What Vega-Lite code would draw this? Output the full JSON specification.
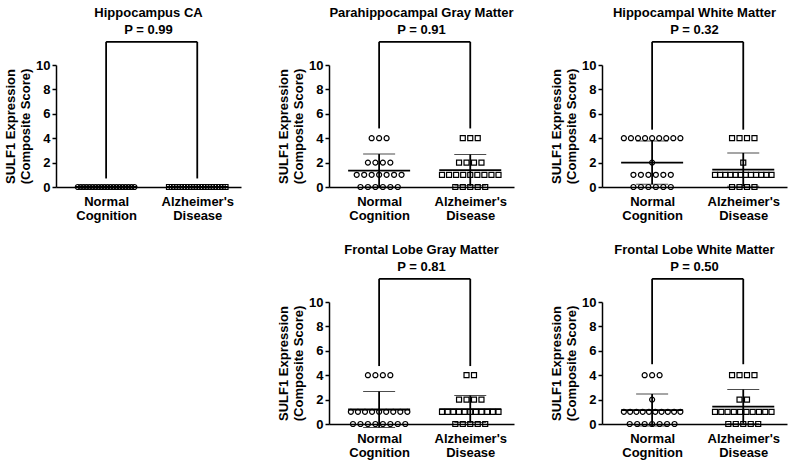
{
  "$schema": "https://vega.github.io/schema/vega-lite/v6.json",
  "padding": {"left": 4, "top": 6, "right": 5, "bottom": 3},
  "background": "white",
  "config": {
    "font": "Liberation Sans",
    "view": {"stroke": null},
    "axis": {"grid": false, "labelOverlap": false, "domainColor": "black", "domainWidth": 1.5, "tickColor": "black", "tickWidth": 1.5, "labelColor": "black", "labelFontWeight": "bold", "labelFontSize": 13, "titleFontWeight": "bold", "titleFontSize": 13, "titleColor": "black"},
    "axisX": {"ticks": false, "labelPadding": 8, "labelLineHeight": 14, "labelFlush": false},
    "axisY": {"tickSize": 4, "labelPadding": 2, "titlePadding": 3},
    "title": {"frame": "group", "anchor": "middle", "fontSize": 13, "subtitleFontSize": 13, "fontWeight": "bold", "subtitleFontWeight": "bold", "color": "black", "subtitleColor": "black", "subtitlePadding": 4, "offset": 4}
  },
  "datasets": {
    "scores": [
      {"region":"HCA","group":"NC","score":0},{"region":"HCA","group":"NC","score":0},{"region":"HCA","group":"NC","score":0},{"region":"HCA","group":"NC","score":0},{"region":"HCA","group":"NC","score":0},
      {"region":"HCA","group":"NC","score":0},{"region":"HCA","group":"NC","score":0},{"region":"HCA","group":"NC","score":0},{"region":"HCA","group":"NC","score":0},{"region":"HCA","group":"NC","score":0},
      {"region":"HCA","group":"NC","score":0},{"region":"HCA","group":"NC","score":0},{"region":"HCA","group":"NC","score":0},{"region":"HCA","group":"NC","score":0},{"region":"HCA","group":"NC","score":0},
      {"region":"HCA","group":"NC","score":0},{"region":"HCA","group":"NC","score":0},{"region":"HCA","group":"NC","score":0},{"region":"HCA","group":"NC","score":0},{"region":"HCA","group":"NC","score":0},
      {"region":"HCA","group":"AD","score":0},{"region":"HCA","group":"AD","score":0},{"region":"HCA","group":"AD","score":0},{"region":"HCA","group":"AD","score":0},{"region":"HCA","group":"AD","score":0},
      {"region":"HCA","group":"AD","score":0},{"region":"HCA","group":"AD","score":0},{"region":"HCA","group":"AD","score":0},{"region":"HCA","group":"AD","score":0},{"region":"HCA","group":"AD","score":0},
      {"region":"HCA","group":"AD","score":0},{"region":"HCA","group":"AD","score":0},{"region":"HCA","group":"AD","score":0},{"region":"HCA","group":"AD","score":0},{"region":"HCA","group":"AD","score":0},
      {"region":"HCA","group":"AD","score":0},{"region":"HCA","group":"AD","score":0},{"region":"HCA","group":"AD","score":0},{"region":"HCA","group":"AD","score":0},{"region":"HCA","group":"AD","score":0},
      {"region":"HCA","group":"AD","score":0},

      {"region":"PHGM","group":"NC","score":4},{"region":"PHGM","group":"NC","score":4},{"region":"PHGM","group":"NC","score":4},
      {"region":"PHGM","group":"NC","score":2},{"region":"PHGM","group":"NC","score":2},{"region":"PHGM","group":"NC","score":2},{"region":"PHGM","group":"NC","score":2},
      {"region":"PHGM","group":"NC","score":1},{"region":"PHGM","group":"NC","score":1},{"region":"PHGM","group":"NC","score":1},{"region":"PHGM","group":"NC","score":1},{"region":"PHGM","group":"NC","score":1},{"region":"PHGM","group":"NC","score":1},{"region":"PHGM","group":"NC","score":1},
      {"region":"PHGM","group":"NC","score":0},{"region":"PHGM","group":"NC","score":0},{"region":"PHGM","group":"NC","score":0},{"region":"PHGM","group":"NC","score":0},{"region":"PHGM","group":"NC","score":0},{"region":"PHGM","group":"NC","score":0},
      {"region":"PHGM","group":"AD","score":4},{"region":"PHGM","group":"AD","score":4},{"region":"PHGM","group":"AD","score":4},
      {"region":"PHGM","group":"AD","score":2},{"region":"PHGM","group":"AD","score":2},{"region":"PHGM","group":"AD","score":2},{"region":"PHGM","group":"AD","score":2},
      {"region":"PHGM","group":"AD","score":1},{"region":"PHGM","group":"AD","score":1},{"region":"PHGM","group":"AD","score":1},{"region":"PHGM","group":"AD","score":1},{"region":"PHGM","group":"AD","score":1},{"region":"PHGM","group":"AD","score":1},{"region":"PHGM","group":"AD","score":1},{"region":"PHGM","group":"AD","score":1},{"region":"PHGM","group":"AD","score":1},
      {"region":"PHGM","group":"AD","score":0},{"region":"PHGM","group":"AD","score":0},{"region":"PHGM","group":"AD","score":0},{"region":"PHGM","group":"AD","score":0},{"region":"PHGM","group":"AD","score":0},

      {"region":"HWM","group":"NC","score":4},{"region":"HWM","group":"NC","score":4},{"region":"HWM","group":"NC","score":4},{"region":"HWM","group":"NC","score":4},{"region":"HWM","group":"NC","score":4},{"region":"HWM","group":"NC","score":4},{"region":"HWM","group":"NC","score":4},{"region":"HWM","group":"NC","score":4},{"region":"HWM","group":"NC","score":4},
      {"region":"HWM","group":"NC","score":2},
      {"region":"HWM","group":"NC","score":1},{"region":"HWM","group":"NC","score":1},{"region":"HWM","group":"NC","score":1},{"region":"HWM","group":"NC","score":1},{"region":"HWM","group":"NC","score":1},{"region":"HWM","group":"NC","score":1},
      {"region":"HWM","group":"NC","score":0},{"region":"HWM","group":"NC","score":0},{"region":"HWM","group":"NC","score":0},{"region":"HWM","group":"NC","score":0},{"region":"HWM","group":"NC","score":0},{"region":"HWM","group":"NC","score":0},
      {"region":"HWM","group":"AD","score":4},{"region":"HWM","group":"AD","score":4},{"region":"HWM","group":"AD","score":4},{"region":"HWM","group":"AD","score":4},
      {"region":"HWM","group":"AD","score":2},
      {"region":"HWM","group":"AD","score":1},{"region":"HWM","group":"AD","score":1},{"region":"HWM","group":"AD","score":1},{"region":"HWM","group":"AD","score":1},{"region":"HWM","group":"AD","score":1},{"region":"HWM","group":"AD","score":1},{"region":"HWM","group":"AD","score":1},{"region":"HWM","group":"AD","score":1},{"region":"HWM","group":"AD","score":1},{"region":"HWM","group":"AD","score":1},{"region":"HWM","group":"AD","score":1},{"region":"HWM","group":"AD","score":1},
      {"region":"HWM","group":"AD","score":0},{"region":"HWM","group":"AD","score":0},{"region":"HWM","group":"AD","score":0},{"region":"HWM","group":"AD","score":0},

      {"region":"FGM","group":"NC","score":4},{"region":"FGM","group":"NC","score":4},{"region":"FGM","group":"NC","score":4},{"region":"FGM","group":"NC","score":4},
      {"region":"FGM","group":"NC","score":1},{"region":"FGM","group":"NC","score":1},{"region":"FGM","group":"NC","score":1},{"region":"FGM","group":"NC","score":1},{"region":"FGM","group":"NC","score":1},{"region":"FGM","group":"NC","score":1},{"region":"FGM","group":"NC","score":1},{"region":"FGM","group":"NC","score":1},{"region":"FGM","group":"NC","score":1},
      {"region":"FGM","group":"NC","score":0},{"region":"FGM","group":"NC","score":0},{"region":"FGM","group":"NC","score":0},{"region":"FGM","group":"NC","score":0},{"region":"FGM","group":"NC","score":0},{"region":"FGM","group":"NC","score":0},{"region":"FGM","group":"NC","score":0},{"region":"FGM","group":"NC","score":0},
      {"region":"FGM","group":"AD","score":4},{"region":"FGM","group":"AD","score":4},
      {"region":"FGM","group":"AD","score":2},{"region":"FGM","group":"AD","score":2},{"region":"FGM","group":"AD","score":2},{"region":"FGM","group":"AD","score":2},
      {"region":"FGM","group":"AD","score":1},{"region":"FGM","group":"AD","score":1},{"region":"FGM","group":"AD","score":1},{"region":"FGM","group":"AD","score":1},{"region":"FGM","group":"AD","score":1},{"region":"FGM","group":"AD","score":1},{"region":"FGM","group":"AD","score":1},{"region":"FGM","group":"AD","score":1},{"region":"FGM","group":"AD","score":1},{"region":"FGM","group":"AD","score":1},{"region":"FGM","group":"AD","score":1},
      {"region":"FGM","group":"AD","score":0},{"region":"FGM","group":"AD","score":0},{"region":"FGM","group":"AD","score":0},{"region":"FGM","group":"AD","score":0},{"region":"FGM","group":"AD","score":0},

      {"region":"FWM","group":"NC","score":4},{"region":"FWM","group":"NC","score":4},{"region":"FWM","group":"NC","score":4},
      {"region":"FWM","group":"NC","score":2},
      {"region":"FWM","group":"NC","score":1},{"region":"FWM","group":"NC","score":1},{"region":"FWM","group":"NC","score":1},{"region":"FWM","group":"NC","score":1},{"region":"FWM","group":"NC","score":1},{"region":"FWM","group":"NC","score":1},{"region":"FWM","group":"NC","score":1},{"region":"FWM","group":"NC","score":1},{"region":"FWM","group":"NC","score":1},{"region":"FWM","group":"NC","score":1},
      {"region":"FWM","group":"NC","score":0},{"region":"FWM","group":"NC","score":0},{"region":"FWM","group":"NC","score":0},{"region":"FWM","group":"NC","score":0},{"region":"FWM","group":"NC","score":0},{"region":"FWM","group":"NC","score":0},{"region":"FWM","group":"NC","score":0},
      {"region":"FWM","group":"AD","score":4},{"region":"FWM","group":"AD","score":4},{"region":"FWM","group":"AD","score":4},{"region":"FWM","group":"AD","score":4},
      {"region":"FWM","group":"AD","score":2},{"region":"FWM","group":"AD","score":2},
      {"region":"FWM","group":"AD","score":1},{"region":"FWM","group":"AD","score":1},{"region":"FWM","group":"AD","score":1},{"region":"FWM","group":"AD","score":1},{"region":"FWM","group":"AD","score":1},{"region":"FWM","group":"AD","score":1},{"region":"FWM","group":"AD","score":1},{"region":"FWM","group":"AD","score":1},{"region":"FWM","group":"AD","score":1},{"region":"FWM","group":"AD","score":1},
      {"region":"FWM","group":"AD","score":0},{"region":"FWM","group":"AD","score":0},{"region":"FWM","group":"AD","score":0},{"region":"FWM","group":"AD","score":0},{"region":"FWM","group":"AD","score":0}
    ],
    "brackets": [
      {"region":"HCA","group":"NC","bottom":0.7},{"region":"HCA","group":"AD","bottom":0.7},
      {"region":"PHGM","group":"NC","bottom":4.8},{"region":"PHGM","group":"AD","bottom":4.8},
      {"region":"HWM","group":"NC","bottom":4.7},{"region":"HWM","group":"AD","bottom":4.7},
      {"region":"FGM","group":"NC","bottom":4.75},{"region":"FGM","group":"AD","bottom":4.75},
      {"region":"FWM","group":"NC","bottom":4.9},{"region":"FWM","group":"AD","bottom":4.9}
    ]
  },
  "columns": 3,
  "spacing": {"row": 21, "column": 36},
  "concat": [
    {
      "title": {"text": "Hippocampus CA", "subtitle": "P = 0.99"},
      "width": 185, "height": 122,
      "layer": [
        {"data": {"name": "brackets"}, "transform": [{"filter": "datum.region == 'HCA'"}, {"calculate": "datum.group == 'NC' ? 1 : 2", "as": "g"}],
         "mark": {"type": "rule", "strokeWidth": 1.8, "color": "black"},
         "encoding": {"x": {"field": "g", "type": "quantitative", "scale": {"domain": [0.45, 2.48], "nice": false, "zero": false}, "axis": {"values": [1, 2], "title": null, "labelExpr": "datum.value == 1 ? ['Normal', 'Cognition'] : [\"Alzheimer's\", 'Disease']"}}, "y": {"field": "bottom", "type": "quantitative", "scale": {"domain": [0, 10], "nice": false}, "axis": {"values": [0, 2, 4, 6, 8, 10], "tickCount": 10, "labelOverlap": false, "title": ["SULF1 Expression", "(Composite Score)"]}}, "y2": {"datum": 11.9}}},
        {"data": {"name": "brackets"}, "transform": [{"filter": "datum.region == 'HCA' && datum.group == 'NC'"}],
         "mark": {"type": "rule", "strokeWidth": 1.8, "color": "black"},
         "encoding": {"x": {"datum": 1}, "x2": {"datum": 2}, "y": {"datum": 11.9}}},
        {"data": {"name": "scores"}, "transform": [{"filter": "datum.region == 'HCA'"}, {"window": [{"op": "row_number", "as": "rank"}], "groupby": ["group", "score"]}, {"joinaggregate": [{"op": "count", "as": "n"}], "groupby": ["group", "score"]}, {"calculate": "(datum.group == 'NC' ? 1 : 2) + (datum.rank - 1 - (datum.n - 1) / 2) * min(0.082, 0.62 / max(datum.n - 1, 1))", "as": "xpos"}],
         "mark": {"type": "point", "filled": false, "size": 25, "strokeWidth": 1.2, "color": "black", "opacity": 1},
         "encoding": {
           "x": {"field": "xpos", "type": "quantitative", "axis": {"values": [1, 2], "title": null, "labelExpr": "datum.value == 1 ? ['Normal', 'Cognition'] : [\"Alzheimer's\", 'Disease']"}},
           "y": {"field": "score", "type": "quantitative", "axis": {"values": [0, 2, 4, 6, 8, 10], "tickCount": 10, "labelOverlap": false, "title": ["SULF1 Expression", "(Composite Score)"]}},
           "shape": {"field": "group", "type": "nominal", "scale": {"domain": ["NC", "AD"], "range": ["circle", "square"]}, "legend": null}}},
        {"data": {"name": "scores"}, "transform": [{"filter": "datum.region == 'HCA'"}, {"calculate": "datum.group == 'NC' ? 1 : 2", "as": "g"}],
         "mark": {"type": "errorbar", "extent": "stdev", "orient": "vertical", "color": "black", "ticks": {"size": 32, "strokeWidth": 1.8}, "rule": {"strokeWidth": 1.8}},
         "encoding": {"x": {"field": "g", "type": "quantitative", "axis": {"values": [1, 2], "title": null, "labelExpr": "datum.value == 1 ? ['Normal', 'Cognition'] : [\"Alzheimer's\", 'Disease']"}}, "y": {"field": "score", "type": "quantitative", "axis": {"values": [0, 2, 4, 6, 8, 10], "tickCount": 10, "labelOverlap": false, "title": ["SULF1 Expression", "(Composite Score)"]}}}},
        {"data": {"name": "scores"}, "transform": [{"filter": "datum.region == 'HCA'"}, {"calculate": "datum.group == 'NC' ? 1 : 2", "as": "g"}],
         "mark": {"type": "tick", "orient": "horizontal", "size": 62, "thickness": 1.8, "color": "black", "opacity": 1},
         "encoding": {"x": {"field": "g", "type": "quantitative", "axis": {"values": [1, 2], "title": null, "labelExpr": "datum.value == 1 ? ['Normal', 'Cognition'] : [\"Alzheimer's\", 'Disease']"}}, "y": {"aggregate": "mean", "field": "score", "type": "quantitative", "axis": {"values": [0, 2, 4, 6, 8, 10], "tickCount": 10, "labelOverlap": false, "title": ["SULF1 Expression", "(Composite Score)"]}}}}
      ]
    },
    {
      "title": {"text": "Parahippocampal Gray Matter", "subtitle": "P = 0.91"},
      "width": 185, "height": 122,
      "layer": [
        {"data": {"name": "brackets"}, "transform": [{"filter": "datum.region == 'PHGM'"}, {"calculate": "datum.group == 'NC' ? 1 : 2", "as": "g"}],
         "mark": {"type": "rule", "strokeWidth": 1.8, "color": "black"},
         "encoding": {"x": {"field": "g", "type": "quantitative", "scale": {"domain": [0.45, 2.48], "nice": false, "zero": false}, "axis": {"values": [1, 2], "title": null, "labelExpr": "datum.value == 1 ? ['Normal', 'Cognition'] : [\"Alzheimer's\", 'Disease']"}}, "y": {"field": "bottom", "type": "quantitative", "scale": {"domain": [0, 10], "nice": false}, "axis": {"values": [0, 2, 4, 6, 8, 10], "tickCount": 10, "labelOverlap": false, "title": ["SULF1 Expression", "(Composite Score)"]}}, "y2": {"datum": 11.9}}},
        {"data": {"name": "brackets"}, "transform": [{"filter": "datum.region == 'PHGM' && datum.group == 'NC'"}],
         "mark": {"type": "rule", "strokeWidth": 1.8, "color": "black"},
         "encoding": {"x": {"datum": 1}, "x2": {"datum": 2}, "y": {"datum": 11.9}}},
        {"data": {"name": "scores"}, "transform": [{"filter": "datum.region == 'PHGM'"}, {"window": [{"op": "row_number", "as": "rank"}], "groupby": ["group", "score"]}, {"joinaggregate": [{"op": "count", "as": "n"}], "groupby": ["group", "score"]}, {"calculate": "(datum.group == 'NC' ? 1 : 2) + (datum.rank - 1 - (datum.n - 1) / 2) * min(0.082, 0.62 / max(datum.n - 1, 1))", "as": "xpos"}],
         "mark": {"type": "point", "filled": false, "size": 25, "strokeWidth": 1.2, "color": "black", "opacity": 1},
         "encoding": {
           "x": {"field": "xpos", "type": "quantitative", "axis": {"values": [1, 2], "title": null, "labelExpr": "datum.value == 1 ? ['Normal', 'Cognition'] : [\"Alzheimer's\", 'Disease']"}},
           "y": {"field": "score", "type": "quantitative", "axis": {"values": [0, 2, 4, 6, 8, 10], "tickCount": 10, "labelOverlap": false, "title": ["SULF1 Expression", "(Composite Score)"]}},
           "shape": {"field": "group", "type": "nominal", "scale": {"domain": ["NC", "AD"], "range": ["circle", "square"]}, "legend": null}}},
        {"data": {"name": "scores"}, "transform": [{"filter": "datum.region == 'PHGM'"}, {"calculate": "datum.group == 'NC' ? 1 : 2", "as": "g"}],
         "mark": {"type": "errorbar", "extent": "stdev", "orient": "vertical", "color": "black", "ticks": {"size": 32, "strokeWidth": 1.8}, "rule": {"strokeWidth": 1.8}},
         "encoding": {"x": {"field": "g", "type": "quantitative", "axis": {"values": [1, 2], "title": null, "labelExpr": "datum.value == 1 ? ['Normal', 'Cognition'] : [\"Alzheimer's\", 'Disease']"}}, "y": {"field": "score", "type": "quantitative", "axis": {"values": [0, 2, 4, 6, 8, 10], "tickCount": 10, "labelOverlap": false, "title": ["SULF1 Expression", "(Composite Score)"]}}}},
        {"data": {"name": "scores"}, "transform": [{"filter": "datum.region == 'PHGM'"}, {"calculate": "datum.group == 'NC' ? 1 : 2", "as": "g"}],
         "mark": {"type": "tick", "orient": "horizontal", "size": 62, "thickness": 1.8, "color": "black", "opacity": 1},
         "encoding": {"x": {"field": "g", "type": "quantitative", "axis": {"values": [1, 2], "title": null, "labelExpr": "datum.value == 1 ? ['Normal', 'Cognition'] : [\"Alzheimer's\", 'Disease']"}}, "y": {"aggregate": "mean", "field": "score", "type": "quantitative", "axis": {"values": [0, 2, 4, 6, 8, 10], "tickCount": 10, "labelOverlap": false, "title": ["SULF1 Expression", "(Composite Score)"]}}}}
      ]
    },
    {
      "title": {"text": "Hippocampal White Matter", "subtitle": "P = 0.32"},
      "width": 185, "height": 122,
      "layer": [
        {"data": {"name": "brackets"}, "transform": [{"filter": "datum.region == 'HWM'"}, {"calculate": "datum.group == 'NC' ? 1 : 2", "as": "g"}],
         "mark": {"type": "rule", "strokeWidth": 1.8, "color": "black"},
         "encoding": {"x": {"field": "g", "type": "quantitative", "scale": {"domain": [0.45, 2.48], "nice": false, "zero": false}, "axis": {"values": [1, 2], "title": null, "labelExpr": "datum.value == 1 ? ['Normal', 'Cognition'] : [\"Alzheimer's\", 'Disease']"}}, "y": {"field": "bottom", "type": "quantitative", "scale": {"domain": [0, 10], "nice": false}, "axis": {"values": [0, 2, 4, 6, 8, 10], "tickCount": 10, "labelOverlap": false, "title": ["SULF1 Expression", "(Composite Score)"]}}, "y2": {"datum": 11.9}}},
        {"data": {"name": "brackets"}, "transform": [{"filter": "datum.region == 'HWM' && datum.group == 'NC'"}],
         "mark": {"type": "rule", "strokeWidth": 1.8, "color": "black"},
         "encoding": {"x": {"datum": 1}, "x2": {"datum": 2}, "y": {"datum": 11.9}}},
        {"data": {"name": "scores"}, "transform": [{"filter": "datum.region == 'HWM'"}, {"window": [{"op": "row_number", "as": "rank"}], "groupby": ["group", "score"]}, {"joinaggregate": [{"op": "count", "as": "n"}], "groupby": ["group", "score"]}, {"calculate": "(datum.group == 'NC' ? 1 : 2) + (datum.rank - 1 - (datum.n - 1) / 2) * min(0.082, 0.62 / max(datum.n - 1, 1))", "as": "xpos"}],
         "mark": {"type": "point", "filled": false, "size": 25, "strokeWidth": 1.2, "color": "black", "opacity": 1},
         "encoding": {
           "x": {"field": "xpos", "type": "quantitative", "axis": {"values": [1, 2], "title": null, "labelExpr": "datum.value == 1 ? ['Normal', 'Cognition'] : [\"Alzheimer's\", 'Disease']"}},
           "y": {"field": "score", "type": "quantitative", "axis": {"values": [0, 2, 4, 6, 8, 10], "tickCount": 10, "labelOverlap": false, "title": ["SULF1 Expression", "(Composite Score)"]}},
           "shape": {"field": "group", "type": "nominal", "scale": {"domain": ["NC", "AD"], "range": ["circle", "square"]}, "legend": null}}},
        {"data": {"name": "scores"}, "transform": [{"filter": "datum.region == 'HWM'"}, {"calculate": "datum.group == 'NC' ? 1 : 2", "as": "g"}],
         "mark": {"type": "errorbar", "extent": "stdev", "orient": "vertical", "color": "black", "ticks": {"size": 32, "strokeWidth": 1.8}, "rule": {"strokeWidth": 1.8}},
         "encoding": {"x": {"field": "g", "type": "quantitative", "axis": {"values": [1, 2], "title": null, "labelExpr": "datum.value == 1 ? ['Normal', 'Cognition'] : [\"Alzheimer's\", 'Disease']"}}, "y": {"field": "score", "type": "quantitative", "axis": {"values": [0, 2, 4, 6, 8, 10], "tickCount": 10, "labelOverlap": false, "title": ["SULF1 Expression", "(Composite Score)"]}}}},
        {"data": {"name": "scores"}, "transform": [{"filter": "datum.region == 'HWM'"}, {"calculate": "datum.group == 'NC' ? 1 : 2", "as": "g"}],
         "mark": {"type": "tick", "orient": "horizontal", "size": 62, "thickness": 1.8, "color": "black", "opacity": 1},
         "encoding": {"x": {"field": "g", "type": "quantitative", "axis": {"values": [1, 2], "title": null, "labelExpr": "datum.value == 1 ? ['Normal', 'Cognition'] : [\"Alzheimer's\", 'Disease']"}}, "y": {"aggregate": "mean", "field": "score", "type": "quantitative", "axis": {"values": [0, 2, 4, 6, 8, 10], "tickCount": 10, "labelOverlap": false, "title": ["SULF1 Expression", "(Composite Score)"]}}}}
      ]
    },
    {
      "width": 185, "height": 122,
      "data": {"values": []},
      "mark": {"type": "point", "opacity": 0},
      "encoding": {}
    },
    {
      "title": {"text": "Frontal Lobe Gray Matter", "subtitle": "P = 0.81"},
      "width": 185, "height": 122,
      "layer": [
        {"data": {"name": "brackets"}, "transform": [{"filter": "datum.region == 'FGM'"}, {"calculate": "datum.group == 'NC' ? 1 : 2", "as": "g"}],
         "mark": {"type": "rule", "strokeWidth": 1.8, "color": "black"},
         "encoding": {"x": {"field": "g", "type": "quantitative", "scale": {"domain": [0.45, 2.48], "nice": false, "zero": false}, "axis": {"values": [1, 2], "title": null, "labelExpr": "datum.value == 1 ? ['Normal', 'Cognition'] : [\"Alzheimer's\", 'Disease']"}}, "y": {"field": "bottom", "type": "quantitative", "scale": {"domain": [0, 10], "nice": false}, "axis": {"values": [0, 2, 4, 6, 8, 10], "tickCount": 10, "labelOverlap": false, "title": ["SULF1 Expression", "(Composite Score)"]}}, "y2": {"datum": 11.9}}},
        {"data": {"name": "brackets"}, "transform": [{"filter": "datum.region == 'FGM' && datum.group == 'NC'"}],
         "mark": {"type": "rule", "strokeWidth": 1.8, "color": "black"},
         "encoding": {"x": {"datum": 1}, "x2": {"datum": 2}, "y": {"datum": 11.9}}},
        {"data": {"name": "scores"}, "transform": [{"filter": "datum.region == 'FGM'"}, {"window": [{"op": "row_number", "as": "rank"}], "groupby": ["group", "score"]}, {"joinaggregate": [{"op": "count", "as": "n"}], "groupby": ["group", "score"]}, {"calculate": "(datum.group == 'NC' ? 1 : 2) + (datum.rank - 1 - (datum.n - 1) / 2) * min(0.082, 0.62 / max(datum.n - 1, 1))", "as": "xpos"}],
         "mark": {"type": "point", "filled": false, "size": 25, "strokeWidth": 1.2, "color": "black", "opacity": 1},
         "encoding": {
           "x": {"field": "xpos", "type": "quantitative", "axis": {"values": [1, 2], "title": null, "labelExpr": "datum.value == 1 ? ['Normal', 'Cognition'] : [\"Alzheimer's\", 'Disease']"}},
           "y": {"field": "score", "type": "quantitative", "axis": {"values": [0, 2, 4, 6, 8, 10], "tickCount": 10, "labelOverlap": false, "title": ["SULF1 Expression", "(Composite Score)"]}},
           "shape": {"field": "group", "type": "nominal", "scale": {"domain": ["NC", "AD"], "range": ["circle", "square"]}, "legend": null}}},
        {"data": {"name": "scores"}, "transform": [{"filter": "datum.region == 'FGM'"}, {"calculate": "datum.group == 'NC' ? 1 : 2", "as": "g"}],
         "mark": {"type": "errorbar", "extent": "stdev", "orient": "vertical", "color": "black", "ticks": {"size": 32, "strokeWidth": 1.8}, "rule": {"strokeWidth": 1.8}},
         "encoding": {"x": {"field": "g", "type": "quantitative", "axis": {"values": [1, 2], "title": null, "labelExpr": "datum.value == 1 ? ['Normal', 'Cognition'] : [\"Alzheimer's\", 'Disease']"}}, "y": {"field": "score", "type": "quantitative", "axis": {"values": [0, 2, 4, 6, 8, 10], "tickCount": 10, "labelOverlap": false, "title": ["SULF1 Expression", "(Composite Score)"]}}}},
        {"data": {"name": "scores"}, "transform": [{"filter": "datum.region == 'FGM'"}, {"calculate": "datum.group == 'NC' ? 1 : 2", "as": "g"}],
         "mark": {"type": "tick", "orient": "horizontal", "size": 62, "thickness": 1.8, "color": "black", "opacity": 1},
         "encoding": {"x": {"field": "g", "type": "quantitative", "axis": {"values": [1, 2], "title": null, "labelExpr": "datum.value == 1 ? ['Normal', 'Cognition'] : [\"Alzheimer's\", 'Disease']"}}, "y": {"aggregate": "mean", "field": "score", "type": "quantitative", "axis": {"values": [0, 2, 4, 6, 8, 10], "tickCount": 10, "labelOverlap": false, "title": ["SULF1 Expression", "(Composite Score)"]}}}}
      ]
    },
    {
      "title": {"text": "Frontal Lobe White Matter", "subtitle": "P = 0.50"},
      "width": 185, "height": 122,
      "layer": [
        {"data": {"name": "brackets"}, "transform": [{"filter": "datum.region == 'FWM'"}, {"calculate": "datum.group == 'NC' ? 1 : 2", "as": "g"}],
         "mark": {"type": "rule", "strokeWidth": 1.8, "color": "black"},
         "encoding": {"x": {"field": "g", "type": "quantitative", "scale": {"domain": [0.45, 2.48], "nice": false, "zero": false}, "axis": {"values": [1, 2], "title": null, "labelExpr": "datum.value == 1 ? ['Normal', 'Cognition'] : [\"Alzheimer's\", 'Disease']"}}, "y": {"field": "bottom", "type": "quantitative", "scale": {"domain": [0, 10], "nice": false}, "axis": {"values": [0, 2, 4, 6, 8, 10], "tickCount": 10, "labelOverlap": false, "title": ["SULF1 Expression", "(Composite Score)"]}}, "y2": {"datum": 11.9}}},
        {"data": {"name": "brackets"}, "transform": [{"filter": "datum.region == 'FWM' && datum.group == 'NC'"}],
         "mark": {"type": "rule", "strokeWidth": 1.8, "color": "black"},
         "encoding": {"x": {"datum": 1}, "x2": {"datum": 2}, "y": {"datum": 11.9}}},
        {"data": {"name": "scores"}, "transform": [{"filter": "datum.region == 'FWM'"}, {"window": [{"op": "row_number", "as": "rank"}], "groupby": ["group", "score"]}, {"joinaggregate": [{"op": "count", "as": "n"}], "groupby": ["group", "score"]}, {"calculate": "(datum.group == 'NC' ? 1 : 2) + (datum.rank - 1 - (datum.n - 1) / 2) * min(0.082, 0.62 / max(datum.n - 1, 1))", "as": "xpos"}],
         "mark": {"type": "point", "filled": false, "size": 25, "strokeWidth": 1.2, "color": "black", "opacity": 1},
         "encoding": {
           "x": {"field": "xpos", "type": "quantitative", "axis": {"values": [1, 2], "title": null, "labelExpr": "datum.value == 1 ? ['Normal', 'Cognition'] : [\"Alzheimer's\", 'Disease']"}},
           "y": {"field": "score", "type": "quantitative", "axis": {"values": [0, 2, 4, 6, 8, 10], "tickCount": 10, "labelOverlap": false, "title": ["SULF1 Expression", "(Composite Score)"]}},
           "shape": {"field": "group", "type": "nominal", "scale": {"domain": ["NC", "AD"], "range": ["circle", "square"]}, "legend": null}}},
        {"data": {"name": "scores"}, "transform": [{"filter": "datum.region == 'FWM'"}, {"calculate": "datum.group == 'NC' ? 1 : 2", "as": "g"}],
         "mark": {"type": "errorbar", "extent": "stdev", "orient": "vertical", "color": "black", "ticks": {"size": 32, "strokeWidth": 1.8}, "rule": {"strokeWidth": 1.8}},
         "encoding": {"x": {"field": "g", "type": "quantitative", "axis": {"values": [1, 2], "title": null, "labelExpr": "datum.value == 1 ? ['Normal', 'Cognition'] : [\"Alzheimer's\", 'Disease']"}}, "y": {"field": "score", "type": "quantitative", "axis": {"values": [0, 2, 4, 6, 8, 10], "tickCount": 10, "labelOverlap": false, "title": ["SULF1 Expression", "(Composite Score)"]}}}},
        {"data": {"name": "scores"}, "transform": [{"filter": "datum.region == 'FWM'"}, {"calculate": "datum.group == 'NC' ? 1 : 2", "as": "g"}],
         "mark": {"type": "tick", "orient": "horizontal", "size": 62, "thickness": 1.8, "color": "black", "opacity": 1},
         "encoding": {"x": {"field": "g", "type": "quantitative", "axis": {"values": [1, 2], "title": null, "labelExpr": "datum.value == 1 ? ['Normal', 'Cognition'] : [\"Alzheimer's\", 'Disease']"}}, "y": {"aggregate": "mean", "field": "score", "type": "quantitative", "axis": {"values": [0, 2, 4, 6, 8, 10], "tickCount": 10, "labelOverlap": false, "title": ["SULF1 Expression", "(Composite Score)"]}}}}
      ]
    }
  ]
}
